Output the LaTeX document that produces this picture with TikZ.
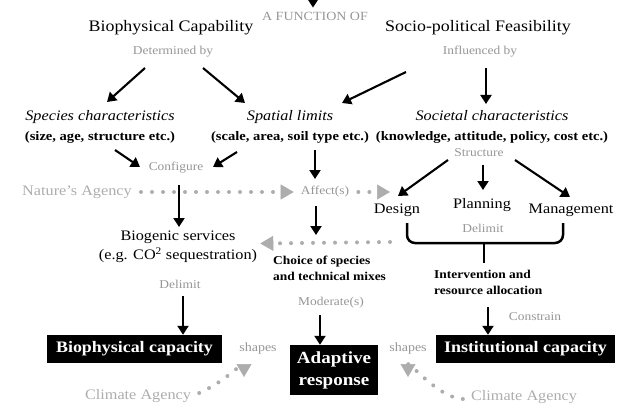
\documentclass[tikz,border=0pt]{standalone}
\usepackage{fontspec}
\setmainfont{Liberation Serif}[FakeStretch=1.12]
\usepackage{xcolor}
\usepackage{tikz}
\usetikzlibrary{arrows.meta, calc}

\definecolor{labelgrey}{HTML}{969696}
\definecolor{agencygrey}{HTML}{ADADAD}

\begin{document}
\begin{tikzpicture}[
    x=1pt, y=-1pt,
    every node/.style={inner sep=1pt, align=center}
]
\tikzset{
    title/.style={font=\fontsize{16}{18}\selectfont},
    grey/.style={text=labelgrey, font=\fontsize{12}{14}\selectfont},
    agency/.style={text=agencygrey, font=\fontsize{14.5}{16}\selectfont},
    branch/.style={font=\fontsize{14.5}{20}\selectfont},
    plain/.style={font=\fontsize{14.5}{19}\selectfont},
    action/.style={font=\fontsize{14.5}{17}\selectfont},
    strong/.style={font=\bfseries\fontsize{12}{16.5}\selectfont, align=left, anchor=west},
    capacity/.style={fill=black, text=white, font=\bfseries\fontsize{16}{22}\selectfont, minimum height=28pt},
    blackarrow/.style={draw=black, line width=2.1pt, -{Triangle[length=9pt,width=11pt]}},
    dotarrow/.style={draw=agencygrey, line width=4pt, line cap=round, dash pattern=on 0pt off 11pt,
        -{Triangle[length=13pt,width=15pt,line width=0.5pt]}},
    brace/.style={draw=black, line width=2.5pt, rounded corners=8pt}
}
\useasboundingbox (0,0) rectangle (627,404);

% headings
\node[grey, font=\fontsize{12.5}{14}\selectfont] (func) at (315,16) {A FUNCTION OF};
\coordinate (top) at (313,-4);
\node[title] (biocap) at (171,28) {Biophysical Capability};
\node[title] (sociofeas) at (478,28) {Socio-political Feasibility};
\node[grey] (detby) at (173,52) {Determined by};
\node[grey] (inflby) at (480,52) {Influenced by};

% characteristics
\node[branch] (species) at (100,127) {\textit{Species characteristics}\\{\bfseries\fontsize{13}{20}\selectfont (size, age, structure etc.)}};
\node[branch] (spatial) at (290,127) {\textit{Spatial limits}\\{\bfseries\fontsize{13}{20}\selectfont (scale, area, soil type etc.)}};
\node[branch] (societal) at (492,127) {\textit{Societal characteristics}\\{\bfseries\fontsize{13}{20}\selectfont (knowledge, attitude, policy, cost etc.)}};

\node[grey] (configure) at (176,168) {Configure};
\node[grey] (structure) at (479,153) {Structure};
\node[agency] (nature) at (77,192) {Nature's Agency};
\node[grey] (affect) at (325,192) {Affect(s)};

\node[action] (design) at (397,210) {Design};
\node[action] (planning) at (482,205) {Planning};
\node[action] (management) at (571,210) {Management};
\node[grey] (delimitr) at (483,228) {Delimit};
\coordinate (designin) at ($(design)+(-7,-18)$);

\node[plain] (biogenic) at (178,246.5) {Biogenic services\\(e.g. CO\textsuperscript{2} sequestration)};
\node[strong] (choice) at (272,268.5) {Choice of species\\and technical mixes};
\node[strong, font=\bfseries\fontsize{12}{16}\selectfont] (interv) at (433,282) {Intervention and\\resource allocation};

\node[grey] (delimitl) at (180,284) {Delimit};
\node[grey] (moderate) at (331,303) {Moderate(s)};
\node[grey] (constrain) at (535,317) {Constrain};

% capacities
\node[capacity, minimum width=175pt] (biocapac) at (134.5,349) {Biophysical capacity};
\node[capacity, minimum width=88pt, minimum height=50pt, font=\bfseries\fontsize{17}{22}\selectfont] (adaptive) at (334,370) {Adaptive\\response};
\node[capacity, minimum width=179pt] (instcapac) at (525.5,349) {Institutional capacity};
\node[grey, font=\fontsize{12.5}{14}\selectfont] (shapesl) at (258,348) {shapes};
\node[grey, font=\fontsize{12.5}{14}\selectfont] (shapesr) at (408,348) {shapes};
\node[agency] (climl) at (138,396) {Climate Agency};
\node[agency] (climr) at (524,397) {Climate Agency};

% black arrows
\draw[blackarrow] (top) -- ($(func.north)+(-2,-3)$);
\draw[blackarrow] ($(detby)+(-28,16)$) -- ($(species)+(7,-25)$);
\draw[blackarrow] ($(detby)+(30,16)$) -- ($(spatial)+(-45,-24)$);
\draw[blackarrow] ($(inflby)+(-74,20)$) -- ($(spatial)+(52,-24)$);
\draw[blackarrow] ($(inflby)+(6,16)$) -- ($(societal)+(-6,-23)$);
\draw[blackarrow] ($(species)+(15,23)$) -- ($(configure)+(-36,-1)$);
\draw[blackarrow] ($(spatial)+(-53,25)$) -- ($(configure)+(37,-1)$);
\draw[blackarrow] ($(spatial)+(25,23)$) -- ($(affect)+(-10,-13)$);
\draw[blackarrow] ($(configure)+(3,17)$) -- ($(biogenic)+(1,-19.5)$);
\draw[blackarrow] ($(affect)+(-9,14)$) -- ($(choice.west)+(44,-33.5)$);
\draw[blackarrow] ($(structure)+(-31,7)$) -- ($(design)+(1,-14)$);
\draw[blackarrow] ($(structure)+(4,12)$) -- ($(planning)+(1,-15)$);
\draw[blackarrow] ($(structure)+(36,7)$) -- ($(management)+(-1,-13)$);
\draw[blackarrow] ($(delimitl)+(3,12)$) -- ($(biocapac.north)+(48.5,0)$);
\draw[blackarrow] ($(moderate)+(-11,12)$) -- ($(adaptive.north)+(-14,0)$);
\draw[blackarrow] ($(interv.west)+(55,25)$) -- ($(instcapac.north)+(-37.5,0)$);

% brace under the actions
\draw[brace] ($(design)+(10,13)$) -- ($(design)+(10,33)$) -- ($(management)+(-8,33)$) -- ($(management)+(-8,13)$);
\draw[brace] ($(delimitr)+(1,15)$) -- ($(interv.west)+(51,-19)$);

% agencies
\draw[dotarrow] ($(nature.east)+(8,0)$) -- ($(affect.west)+(-6,0)$);
\draw[dotarrow] ($(affect.east)+(8,0)$) -- (designin);
\draw[dotarrow] ($(design)+(-7,32)$) -- ($(biogenic.east)+(2,-3)$);
\draw[dotarrow] ($(climl.east)+(7,-3)$) .. controls (228,380) and (244,360) .. ($(shapesl)+(-14,29)$);
\draw[dotarrow] ($(climr.west)+(-7,2)$) .. controls (438,398) and (408,360) .. ($(shapesr)+(0,29)$);
\end{tikzpicture}
\end{document}
